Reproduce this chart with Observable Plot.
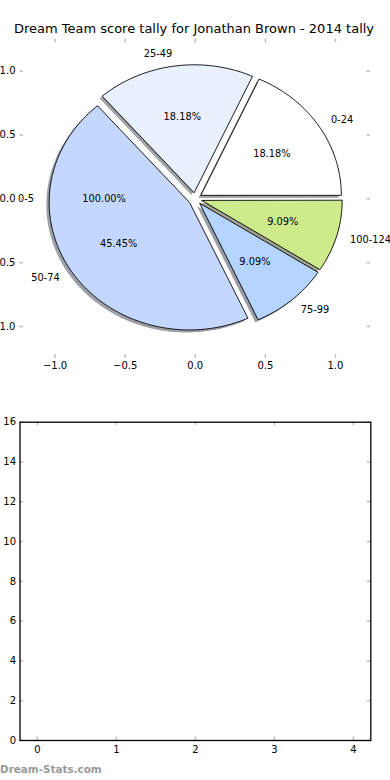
<!DOCTYPE html>
<html>
<head>
<meta charset="utf-8">
<script src="https://cdn.jsdelivr.net/npm/d3@7"></script>
<script src="https://cdn.jsdelivr.net/npm/@observablehq/plot@0.6"></script>
<style>
  html, body { margin: 0; padding: 0; background: white; }
  #root { position: relative; width: 390px; height: 780px; overflow: hidden; font-family: "DejaVu Sans", sans-serif; color: black; }
  #root svg { position: absolute; left: 0; background: transparent; }
  #title { position: absolute; left: -1px; width: 390px; top: 21px; text-align: center; font-size: 13px; white-space: nowrap; }
  #mark { position: absolute; left: 0px; top: 763px; font-size: 10.4px; font-weight: bold; color: #9a9a9a; white-space: nowrap; }
</style>
</head>
<body>
<div id="root"></div>
<script>
// ---- data ----
const sliceLabels = ["0-24", "25-49", "50-74", "75-99", "100-124"];
const sliceCounts = [2, 2, 5, 1, 1];
const sliceColors = ["#ffffff", "#e9f1ff", "#c4d8ff", "#b4d5ff", "#cfea8a"];
const soloLabels = ["0-5"];
const soloCounts = [1];
const pieXTicks = [-1, -0.5, 0, 0.5, 1];
const pieYTicks = [-1, -0.5, 0, 0.5, 1];
const barXTicks = [0, 1, 2, 3, 4];
const barYTicks = [0, 2, 4, 6, 8, 10, 12, 14, 16];
const titleText = "Dream Team score tally for Jonathan Brown - 2014 tally";
const watermark = "Dream-Stats.com";

// ---- pie geometry (in data units) ----
const explode = 0.05;
function buildPie(labels, counts, colors) {
  const total = d3.sum(counts);
  let start = 0;
  const polys = [], shadows = [], names = [], pcts = [];
  labels.forEach((lab, i) => {
    const span = counts[i] / total * 2 * Math.PI;
    const a0 = start, a1 = start + span, mid = (a0 + a1) / 2;
    start = a1;
    const cx = explode * Math.cos(mid), cy = explode * Math.sin(mid);
    const fill = colors ? colors[i] : "#ffffff";
    const pts = [{x: cx, y: cy}];
    const n = Math.max(2, Math.ceil(span / (Math.PI / 180)));
    for (let k = 0; k <= n; k++) {
      const a = a0 + span * k / n;
      pts.push({x: cx + Math.cos(a), y: cy + Math.sin(a)});
    }
    const c = d3.rgb(fill);
    const sh = d3.rgb(c.r * 0.3, c.g * 0.3, c.b * 0.3).formatHex();
    pts.forEach(p => {
      polys.push({label: lab, x: p.x, y: p.y, fill});
      shadows.push({label: lab, x: p.x - 0.02, y: p.y - 0.02, fill: sh});
    });
    names.push({label: lab, x: cx + 1.1 * Math.cos(mid), y: cy + 1.1 * Math.sin(mid)});
    pcts.push({label: d3.format(".2f")(counts[i] / total * 100) + "%", x: cx + 0.6 * Math.cos(mid), y: cy + 0.6 * Math.sin(mid)});
  });
  return {polys, shadows, names, pcts};
}
const main = buildPie(sliceLabels, sliceCounts, sliceColors);
const solo = buildPie(soloLabels, soloCounts, null);

const root = document.getElementById("root");
const tickColor = "#bdbdbd";

// ---- top: pie axes ----
const W1 = 390, H1 = 380;
const m1 = {top: 38.7, bottom: H1 - 357.9, left: 19.5, right: 20};
const inH1 = H1 - m1.top - m1.bottom, inW1 = W1 - m1.left - m1.right;
const names = main.names.concat(solo.names);
const pcts = main.pcts.concat(solo.pcts);
const pie = Plot.plot({
  width: W1, height: H1,
  marginTop: m1.top, marginBottom: m1.bottom, marginLeft: m1.left, marginRight: m1.right,
  style: {fontFamily: "DejaVu Sans", fontSize: "10px", color: "black", background: "transparent", overflow: "visible"},
  x: {domain: [-1.25, 1.25]},
  y: {domain: [-1.25, 1.25]},
  color: {type: "identity"},
  marks: [
    Plot.line(main.shadows, {x: "x", y: "y", z: "label", fill: "fill", fillOpacity: 0.5, stroke: "none", curve: "linear-closed"}),
    Plot.line(main.polys, {x: "x", y: "y", z: "label", fill: "fill", stroke: "#000", strokeWidth: 0.9, curve: "linear-closed"}),
    Plot.text(pcts, {x: "x", y: "y", text: "label", fontSize: 9.8, fill: "black"}),
    Plot.text(names.filter(d => d.x > 0), {x: "x", y: "y", text: "label", textAnchor: "start", fontSize: 9.8, fill: "black"}),
    Plot.text(names.filter(d => d.x <= 0), {x: "x", y: "y", text: "label", textAnchor: "end", fontSize: 9.8, fill: "black"}),
    Plot.tickX(pieXTicks, {x: d => d, stroke: tickColor, strokeWidth: 1.5, insetTop: inH1 - 3.5}),
    Plot.tickX(pieXTicks, {x: d => d, stroke: tickColor, strokeWidth: 1.5, insetBottom: inH1 - 3.5}),
    Plot.tickY(pieYTicks, {y: d => d, stroke: tickColor, strokeWidth: 1.5, insetRight: inW1 - 3.5}),
    Plot.tickY(pieYTicks, {y: d => d, stroke: tickColor, strokeWidth: 1.5, insetLeft: inW1 - 3.5}),
    Plot.axisX(pieXTicks, {anchor: "bottom", tickSize: 0, tickPadding: 3.5, tickFormat: d3.format(".1f"), label: null, fontSize: 10}),
    Plot.axisY(pieYTicks, {anchor: "left", tickSize: 0, tickPadding: 4.5, tickFormat: d3.format(".1f"), label: null, fontSize: 10})
  ]
});
pie.style.top = "0px";
root.appendChild(pie);

// ---- bottom: empty axes ----
const W2 = 390, H2 = 380, top2 = 400;
const m2 = {top: 421.7 - top2, bottom: H2 - (740 - top2), left: 19.5, right: 390 - 370.3};
const inH2 = H2 - m2.top - m2.bottom, inW2 = W2 - m2.left - m2.right;
const bars = Plot.plot({
  width: W2, height: H2,
  marginTop: m2.top, marginBottom: m2.bottom, marginLeft: m2.left, marginRight: m2.right,
  style: {fontFamily: "DejaVu Sans", fontSize: "10px", color: "black", background: "transparent", overflow: "visible"},
  x: {domain: [-0.22, 4.22]},
  y: {domain: [0, 16]},
  marks: [
    Plot.tickX(barXTicks, {x: d => d, stroke: tickColor, strokeWidth: 1.5, insetTop: inH2 - 3.5}),
    Plot.tickX(barXTicks, {x: d => d, stroke: tickColor, strokeWidth: 1.5, insetBottom: inH2 - 3.5}),
    Plot.tickY(barYTicks, {y: d => d, stroke: tickColor, strokeWidth: 1.5, insetRight: inW2 - 3.5}),
    Plot.tickY(barYTicks, {y: d => d, stroke: tickColor, strokeWidth: 1.5, insetLeft: inW2 - 3.5}),
    Plot.frame({stroke: "black", strokeWidth: 1.3}),
    Plot.axisX(barXTicks, {anchor: "bottom", tickSize: 0, tickPadding: 5, tickFormat: d3.format("d"), label: null, fontSize: 10}),
    Plot.axisY(barYTicks, {anchor: "left", tickSize: 0, tickPadding: 4, tickFormat: d3.format("d"), label: null, fontSize: 10})
  ]
});
bars.style.top = top2 + "px";
root.appendChild(bars);

// ---- texts ----
const t = document.createElement("div");
t.id = "title"; t.textContent = titleText;
root.appendChild(t);
const wm = document.createElement("div");
wm.id = "mark"; wm.textContent = watermark;
root.appendChild(wm);
</script>
</body>
</html>
